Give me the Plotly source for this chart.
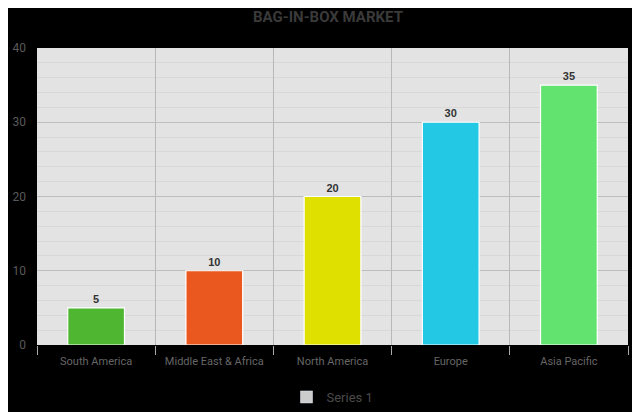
import plotly.graph_objects as go

categories = ["South America", "Middle East & Africa", "North America", "Europe", "Asia Pacific"]
values = [5, 10, 20, 30, 35]
bar_colors = ["#4fb631", "#ea571f", "#dfe000", "#23c9e4", "#62e26f"]
series_name = "Series 1"
title_text = "BAG-IN-BOX MARKET"

fig = go.Figure()
fig.add_trace(go.Bar(
    x=categories, y=values, width=0.48,
    marker=dict(color=bar_colors, line=dict(color="#ffffff", width=1.2)),
    text=[str(v) for v in values], textposition="outside", cliponaxis=False,
    textfont=dict(family="Liberation Sans", size=11, color="#333333", weight="bold"),
    showlegend=False,
))
fig.add_trace(go.Bar(
    x=[categories[0]], y=[None], name=series_name,
    marker=dict(color="#cccccc"), showlegend=True,
))

fig.update_layout(
    width=640, height=412,
    paper_bgcolor="#000000", plot_bgcolor="#e3e3e3",
    margin=dict(l=29, r=20, t=40, b=75, autoexpand=False),
    title=dict(text=title_text, x=0.5, y=0.978, xanchor="center", yanchor="middle",
               font=dict(family="Roboto", size=15, color="#3a3a3a", weight="bold")),
    barmode="overlay",
    showlegend=True,
    legend=dict(orientation="h", x=0.5, xanchor="center", y=-0.175, yanchor="middle",
                font=dict(family="Roboto", size=13, color="#4a4a4a"),
                bgcolor="rgba(0,0,0,0)"),
)
fig.update_xaxes(
    type="category", tickson="boundaries", showgrid=True, gridcolor="#b8b8b8", gridwidth=1,
    ticks="outside", ticklen=9, tickcolor="#aaaaaa", ticklabelstandoff=6,
    tickfont=dict(family="Roboto", size=11, color="#666666"),
    showline=True, linecolor="#000000", zeroline=False,
)
fig.update_yaxes(
    range=[0, 40], dtick=10, showgrid=True, gridcolor="#bdbdbd", gridwidth=1,
    minor=dict(dtick=2, showgrid=True, gridcolor="#d8d8d8", gridwidth=1),
    tickfont=dict(family="Roboto", size=12, color="#5a5a5a"), ticklabelstandoff=10,
    zeroline=False, ticks="", showline=False,
)

fig.write_html("out.html")
